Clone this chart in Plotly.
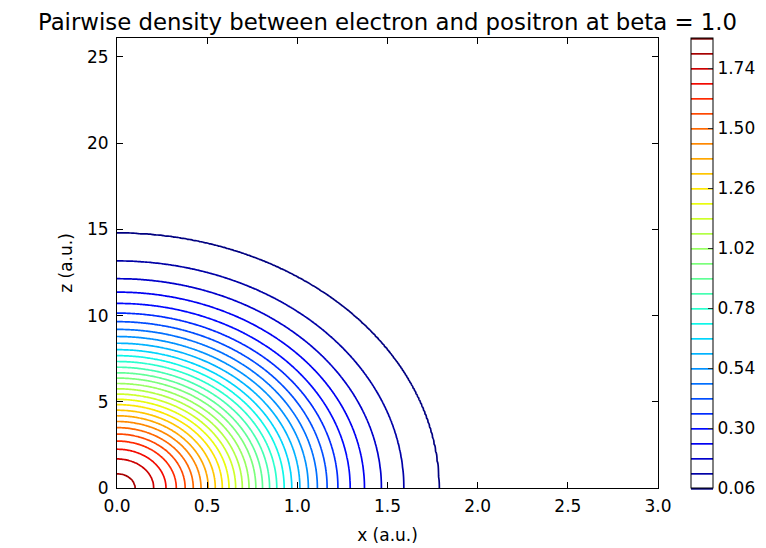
import numpy as np
import plotly.graph_objects as go

# Contour levels (density values)
levels = [0.06, 0.12, 0.18, 0.24, 0.30, 0.36, 0.42, 0.48, 0.54, 0.60,
          0.66, 0.72, 0.78, 0.84, 0.90, 0.96, 1.02, 1.08, 1.14, 1.20,
          1.26, 1.32, 1.38, 1.44, 1.50, 1.56, 1.62, 1.68, 1.74, 1.80]
# x-axis intercept (a.u.) of each contour
x_intercepts = [1.785, 1.590, 1.466, 1.372, 1.293, 1.225, 1.165, 1.111, 1.061, 1.014,
                0.969, 0.927, 0.886, 0.846, 0.807, 0.770, 0.732, 0.695, 0.658, 0.621,
                0.584, 0.545, 0.506, 0.466, 0.423, 0.378, 0.329, 0.272, 0.204, 0.101]
peak_density = 1.82          # value at the origin
tail_radius = 2.6            # where density has faded to zero
z_to_x_ratio = 8.28          # z-intercept / x-intercept of each contour (read)

cbar_ticks = [0.06, 0.30, 0.54, 0.78, 1.02, 1.26, 1.50, 1.74]
x_ticks = [0.0, 0.5, 1.0, 1.5, 2.0, 2.5, 3.0]
z_ticks = [0, 5, 10, 15, 20, 25]
x_range = [0.0, 3.0]
z_range = [0.0, 26.1]

# grid of the density field
xg = np.linspace(x_range[0], x_range[1], 361)
zg = np.linspace(z_range[0], z_range[1], 401)
X, Z = np.meshgrid(xg, zg)
rho = np.sqrt(X ** 2 + (Z / z_to_x_ratio) ** 2)
r_pts = [0.0] + x_intercepts[::-1] + [tail_radius]
v_pts = [peak_density] + levels[::-1] + [0.0]
field = np.interp(rho, r_pts, v_pts)

# matplotlib-like jet colorscale
def jet(t):
    r = np.interp(t, [0, 0.35, 0.66, 0.89, 1], [0, 0, 1, 1, 0.5])
    g = np.interp(t, [0, 0.125, 0.375, 0.64, 0.91, 1], [0, 0, 1, 1, 0, 0])
    b = np.interp(t, [0, 0.11, 0.34, 0.65, 1], [0.5, 1, 1, 0, 0])
    return "rgb(%d,%d,%d)" % (round(r * 255), round(g * 255), round(b * 255))

cs_pos = np.linspace(0, 1, 41)
colorscale = [[float(p), jet(p)] for p in cs_pos]

font = "DejaVu Sans"

fig = go.Figure(go.Contour(
    x=xg, y=zg, z=field,
    contours=dict(start=levels[0], end=1.861, size=0.06, coloring="lines"),
    line=dict(width=1.7),
    colorscale=colorscale,
    showscale=True,
    colorbar=dict(
        thickness=22, len=1, lenmode="fraction", y=0.5, yanchor="middle",
        x=1.061, xanchor="left", xpad=0, ypad=0,
        outlinecolor="black", outlinewidth=1,
        tickvals=cbar_ticks, ticktext=["%.2f" % v for v in cbar_ticks],
        ticks="inside", ticklen=5, tickcolor="#333",
        tickfont=dict(family=font, size=17, color="black"),
    ),
    hoverinfo="skip",
))

axis_common = dict(
    showgrid=False, zeroline=False, showline=True, linecolor="black", linewidth=1,
    mirror="ticks", ticks="inside", ticklen=6, tickcolor="black", automargin=False,
    tickfont=dict(family=font, size=17, color="black"),
)

# the page body adds an 8px offset, so margins are reduced by 8 at left/top
fig.update_layout(
    width=766, height=548,
    margin=dict(l=109, r=116, t=30, b=68, autoexpand=False),
    paper_bgcolor="white", plot_bgcolor="white",
    title=dict(text="Pairwise density between electron and positron at beta = 1.0",
               x=0.5, xref="paper", xanchor="center", y=1, yref="paper",
               yanchor="bottom", pad=dict(b=8),
               font=dict(family=font, size=22.8, color="black")),
    xaxis=dict(range=x_range, tickvals=x_ticks, ticktext=["%.1f" % v for v in x_ticks],
               ticklabelstandoff=3,
               title=dict(text="x (a.u.)", font=dict(family=font, size=17, color="black"), standoff=13),
               **axis_common),
    yaxis=dict(range=z_range, tickvals=z_ticks, ticktext=[str(v) for v in z_ticks],
               ticklabelstandoff=4,
               title=dict(text="z (a.u.)", font=dict(family=font, size=17, color="black"), standoff=10),
               **axis_common),
    showlegend=False,
)

fig.write_html("out.html")
